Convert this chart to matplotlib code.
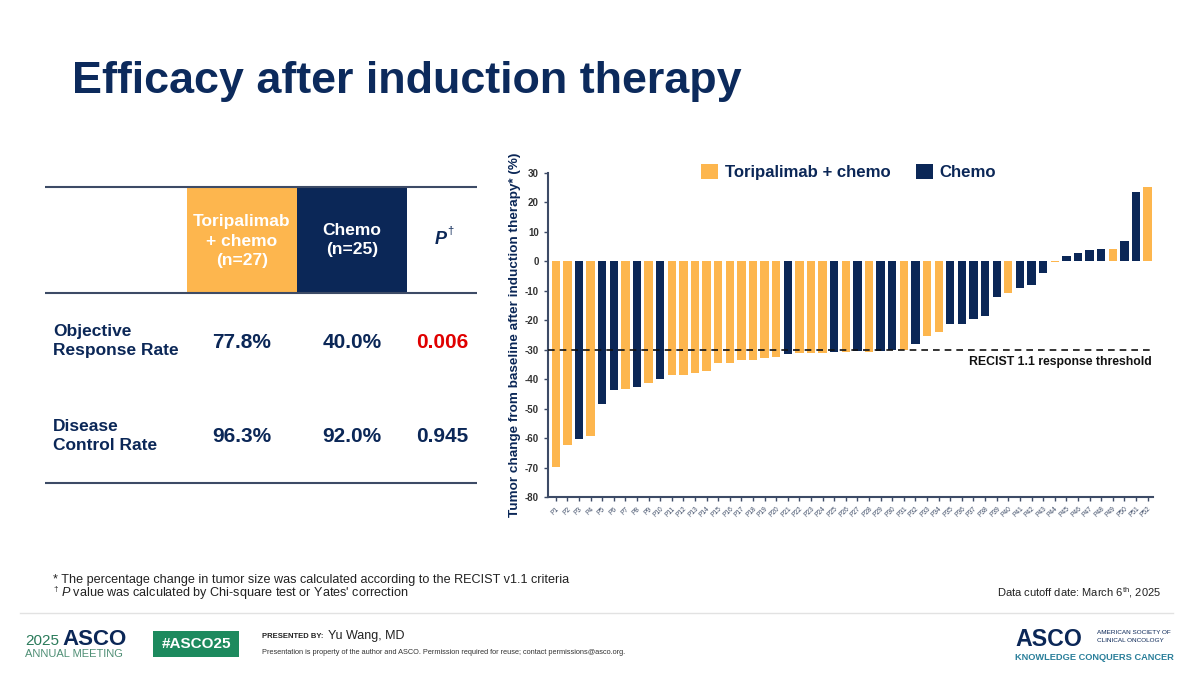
import matplotlib
matplotlib.use("Agg")
import matplotlib.pyplot as plt
from matplotlib.patches import Patch, Rectangle
import numpy as np

plt.rcParams["font.family"] = ["Liberation Sans", "DejaVu Sans"]
plt.rcParams["mathtext.fontset"] = "custom"
plt.rcParams["mathtext.rm"] = "Liberation Sans"
plt.rcParams["mathtext.it"] = "Liberation Sans:italic"
plt.rcParams["axes.unicode_minus"] = False

# ── Data ────────────────────────────────────────────────────────────────────
patients = [f"P{i}" for i in range(1, 53)]
tumor_change = [
    -69.8, -62.5, -60.3, -59.2, -48.5, -43.8, -43.2, -42.5, -41.3, -40.0,
    -38.5, -38.5, -37.8, -37.2, -34.4, -34.4, -33.6, -33.6, -32.8, -32.4,
    -31.3, -31.2, -31.2, -31.0, -30.9, -30.8, -30.5, -30.7, -30.6, -30.2,
    -30.2, -28.0, -25.2, -24.1, -21.4, -21.3, -19.5, -18.4, -12.0, -10.9,
    -9.2, -7.9, -3.8, -0.3, 1.8, 3.0, 4.0, 4.3, 4.3, 6.9,
    23.6, 25.3,
]
# "T" = Toripalimab + chemo, "C" = Chemo
arm = list("TTCTCCTCTC" "TTTTTTTTTT" "CTTTCTCTCC" "TCTTCCCCCT" "CCCTCCCCTC" "CT")

table_groups = ["Toripalimab\n+ chemo\n(n=27)", "Chemo\n(n=25)"]
table_rows = ["Objective\nResponse Rate", "Disease\nControl Rate"]
tori_rates = ["77.8%", "96.3%"]
chemo_rates = ["40.0%", "92.0%"]
p_values = ["0.006", "0.945"]

# ── Style ───────────────────────────────────────────────────────────────────
ORANGE = "#fdb64e"
NAVY = "#0b2757"
TITLE = "#0c2a5c"
RED = "#e00000"
LINE = "#3d4b66"
GREY = "#333333"
GREEN = "#1d8a5e"

fig = plt.figure(figsize=(12, 6.75), dpi=100)
fig.patch.set_facecolor("white")

# overlay in pixel coordinates for the slide furniture
bg = fig.add_axes([0, 0, 1, 1], zorder=-1)
bg.set_xlim(0, 1200)
bg.set_ylim(675, 0)
bg.axis("off")

bg.text(72, 93, "Efficacy after induction therapy", fontsize=32.3, fontweight="bold",
        color=TITLE, va="baseline", ha="left")

# ── Table ───────────────────────────────────────────────────────────────────
for y in (187, 293, 483):
    bg.plot([45, 477], [y, y], color=LINE, lw=1.5, solid_capstyle="butt")
bg.add_patch(Rectangle((187, 187), 110, 106, facecolor=ORANGE, edgecolor="none"))
bg.add_patch(Rectangle((297, 187), 110, 106, facecolor=NAVY, edgecolor="none"))
bg.text(242, 241, table_groups[0], color="white", fontsize=12.5, fontweight="bold",
        ha="center", va="center", linespacing=1.4)
bg.text(352, 240, table_groups[1], color="white", fontsize=12.5, fontweight="bold",
        ha="center", va="center", linespacing=1.4)
bg.text(441, 240, "P", color=NAVY, fontsize=13, fontweight="bold", fontstyle="italic",
        ha="center", va="center")
bg.text(450, 231, "†", color=NAVY, fontsize=8, ha="center", va="center")

row_y = [341, 436]
cols = [(242, tori_rates), (352, chemo_rates), (442, p_values)]
for i, label in enumerate(table_rows):
    bg.text(53, row_y[i], label, color=NAVY, fontsize=12.5, fontweight="bold",
            ha="left", va="center", linespacing=1.4)
    for x, vals in cols:
        c = RED if (vals is p_values and i == 0) else NAVY
        bg.text(x, row_y[i] + 1, vals[i], color=c, fontsize=15, fontweight="bold",
                ha="center", va="center")

# ── Waterfall ───────────────────────────────────────────────────────────────
ax = fig.add_axes([548 / 1200, 1 - 497 / 675, 605 / 1200, 324 / 675])
x = np.arange(len(patients))
colors = [ORANGE if a == "T" else NAVY for a in arm]
ax.bar(x, tumor_change, width=0.72, color=colors, zorder=2)
ax.axhline(-30, color="#111111", lw=1.2, linestyle=(0, (4, 3)), zorder=3)
ax.text(51.4, -34.3, "RECIST 1.1 response threshold", ha="right", va="center",
        fontsize=8.8, fontweight="bold", color="#111111")

ax.set_xlim(-0.67, 51.47)
ax.set_ylim(-80, 30)
ax.set_yticks(np.arange(-80, 31, 10))
ax.set_xticks(x)
ax.set_xticklabels(patients, rotation=45, ha="right", rotation_mode="anchor",
                   fontsize=4.8, color="#666666")
for lbl in ax.get_yticklabels():
    lbl.set_fontweight("bold")
ax.tick_params(axis="y", labelsize=7, colors=LINE, labelcolor=GREY, length=3, width=1)
ax.tick_params(axis="x", colors=LINE, length=3, width=1, pad=3)
for s in ("top", "right"):
    ax.spines[s].set_visible(False)
for s in ("left", "bottom"):
    ax.spines[s].set_color(LINE)
    ax.spines[s].set_linewidth(1.5)
ax.set_ylabel("Tumor change from baseline after induction therapy* (%)",
              fontsize=9.7, fontweight="bold", color=NAVY, labelpad=3)

handles = [Patch(facecolor=ORANGE, label="Toripalimab + chemo"),
           Patch(facecolor=NAVY, label="Chemo")]
leg = ax.legend(handles=handles, loc="center", bbox_to_anchor=(0.497, 1.003),
                ncol=2, frameon=False, handlelength=1.0, handleheight=1.0,
                handletextpad=0.4, columnspacing=1.5,
                prop={"size": 12.1, "weight": "bold"})
for t in leg.get_texts():
    t.set_color(NAVY)

# ── Footnotes ───────────────────────────────────────────────────────────────
bg.text(53, 580, "* The percentage change in tumor size was calculated according to the RECIST v1.1 criteria",
        fontsize=9.1, color="#222222", va="center", ha="left")
bg.text(53, 590, "†", fontsize=6, color="#222222", va="center", ha="left")
bg.text(61, 593, r"$\it{P}$ value was calculated by Chi-square test or Yates' correction",
        fontsize=9.1, color="#222222", va="center", ha="left")
bg.text(1161, 593, r"Data cutoff date: March 6$^{\mathrm{th}}$, 2025",
        fontsize=8, color="#222222", va="center", ha="right")

bg.plot([20, 1173], [613, 613], color="#e2e2e2", lw=1)

# ── Footer ──────────────────────────────────────────────────────────────────
bg.text(25, 645, "2025", fontsize=11, color="#2a7a5a", va="baseline", ha="left")
bg.text(62, 645, "ASCO", fontsize=16, fontweight="bold", color=NAVY, va="baseline", ha="left")
bg.text(25, 657, "ANNUAL MEETING", fontsize=8.0, color="#4f8f75", va="baseline", ha="left")
bg.add_patch(Rectangle((153, 631), 86, 26, facecolor=GREEN, edgecolor="none"))
bg.text(196, 644, "#ASCO25", fontsize=11, fontweight="bold", color="white",
        ha="center", va="center")
bg.text(262, 637, "PRESENTED BY:", fontsize=5.5, fontweight="bold", color="#222222",
        ha="left", va="center")
bg.text(328, 636, "Yu Wang, MD", fontsize=9, color="#222222", ha="left", va="center")
bg.text(262, 653, "Presentation is property of the author and ASCO. Permission required for reuse; contact permissions@asco.org.",
        fontsize=5.35, color="#333333", ha="left", va="center")

bg.text(1015, 646, "ASCO", fontsize=16.7, fontweight="bold", color=NAVY, va="baseline", ha="left")
bg.text(1097, 633, "AMERICAN SOCIETY OF", fontsize=4.6, color=NAVY, va="center", ha="left")
bg.text(1097, 641, "CLINICAL ONCOLOGY", fontsize=4.6, color=NAVY, va="center", ha="left")
bg.text(1015, 657, "KNOWLEDGE CONQUERS CANCER", fontsize=6.7, fontweight="bold",
        color="#2a7f9a", va="center", ha="left")

fig.savefig("out.png", dpi=100, facecolor="white")
